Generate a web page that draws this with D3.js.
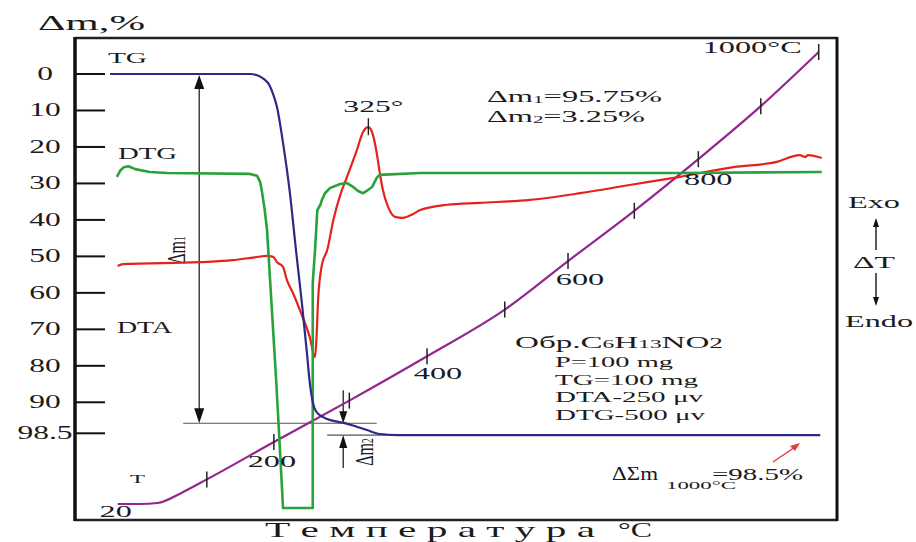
<!DOCTYPE html>
<html>
<head>
<meta charset="utf-8">
<script src="https://cdn.jsdelivr.net/npm/d3@7/dist/d3.min.js"></script>
<style>
  body { margin: 0; background: #fff; }
  svg text { font-family: "Liberation Serif", "Times New Roman", serif; fill: #1b1b1b; }
</style>
</head>
<body>
<div id="chart"></div>
<script>
// horizontal axis = time of the run (min), curves
var massTicks = [0, 10, 20, 30, 40, 50, 60, 70, 80, 90, 98.5];

// TG: [time, mass loss %]
var tgData = [[4.6, 0], [23.0, 0], [24.0, 0.4], [24.8, 1.4], [25.5, 3.0], [26.0, 5.5], [26.5, 9.0],
  [27.3, 18.9], [28.2, 32.6], [29.0, 48.3], [29.8, 63.3], [30.4, 75.7], [30.8, 84.4], [31.2, 89.9],
  [31.6, 92.4], [32.5, 94.0], [33.9, 95.1], [35.4, 95.7], [36.7, 96.5], [38.3, 97.6], [40.0, 98.7],
  [42.3, 99.0], [97.8, 99.0]];

// DTG: [time, deflection]
var dtgData = [[5.5, 71.2], [5.9, 72.4], [6.4, 73.2], [7.0, 73.4], [7.9, 72.8], [9.8, 72.2], [12.1, 72.0],
  [23.0, 71.8], [23.9, 71.4], [24.3, 70.1], [24.5, 68.5], [24.9, 64.3], [25.2, 60.2], [25.6, 49.8],
  [26.0, 39.4], [26.4, 29.0], [26.9, 14.5], [27.3, 2.5], [31.2, 2.5], [31.2, 49.2], [31.5, 56.0],
  [31.8, 64.3], [32.2, 65.4], [32.4, 66.4], [32.8, 67.8], [33.5, 68.9], [34.8, 69.7], [35.7, 69.9],
  [36.5, 69.1], [37.1, 68.3], [37.8, 67.8], [38.3, 68.3], [39.0, 69.1], [39.6, 71.0], [40.0, 71.6],
  [45.3, 72.0], [79.4, 72.0], [98.0, 72.2]];

// DTA: [time, deflection]
var dtaData = [[5.6, 52.7], [6.3, 53.1], [16.4, 53.5], [20.7, 53.9], [23.6, 54.5], [25.2, 54.8],
  [26.0, 54.6], [26.5, 53.5], [27.3, 52.5], [27.8, 49.8], [28.6, 47.1], [29.5, 43.6], [30.8, 38.0],
  [31.5, 33.8], [31.7, 38.0], [31.9, 45.6], [32.4, 52.9], [33.1, 56.0], [33.9, 62.2], [34.8, 67.4],
  [35.7, 71.2], [37.0, 76.8], [37.8, 80.5], [38.5, 81.5], [39.1, 79.9], [39.6, 76.1], [40.0, 72.0],
  [40.4, 68.5], [41.1, 64.9], [42.0, 62.9], [43.0, 62.7], [44.4, 63.5], [45.3, 64.3], [48.8, 65.4],
  [53.1, 65.8], [59.7, 66.4], [66.3, 67.8], [72.8, 69.5], [79.4, 71.2], [86.4, 73.2], [92.1, 74.3],
  [95.1, 75.7], [95.8, 75.3], [96.2, 75.7], [98.0, 75.1]];

// T: [time, °C]
var tempData = [[5.6, 20], [8.5, 20], [10.8, 24], [14.2, 62], [17.3, 100], [26.1, 200], [36.0, 300],
  [46.2, 400], [56.4, 500], [64.7, 600], [73.4, 700], [81.8, 800], [90.0, 900], [97.6, 1000]];
var tempTickTimes = [17.3, 26.1, 36.0, 46.2, 56.4, 64.7, 73.4, 81.8, 90.0, 97.6];
var tempTickValues = [100, 200, 300, 400, 500, 600, 700, 800, 900, 1000];
var tempLabelValues = [20, 200, 400, 600, 800, 1000];
var tempLabelTimes = [5.6, 26.1, 46.2, 64.7, 81.8, 97.6];
var tempLabels = ["20", "200", "400", "600", "800", "1000°C"];

var dm1 = 95.75, dm2 = 3.25, dmSum = 98.5;
var peakTime = 38.5, peakTemp = 325;
var sampleInfo = ["P=100 mg", "TG=100 mg", "DTA-250 μv", "DTG-500 μv"];

const W = 916, H = 542;
const svg = d3.select("#chart").append("svg").attr("width", W).attr("height", H);

const xScale = d3.scaleLinear().domain([0, 100]).range([75, 837]);
const yMass = d3.scaleLinear().domain([0, 98.5]).range([74, 433.3]);
const ySig = d3.scaleLinear().domain([0, 100]).range([520, 38]);
const yTemp = d3.scalePow().exponent(1.2).domain([20, 1000]).range([504, 52]);

function txt(x, y, str, size, width, anchor) {
  var t = svg.append("text").attr("x", x).attr("y", y)
    .attr("font-size", size).style("text-anchor", anchor || "start").text(str);
  if (width) t.attr("textLength", width).attr("lengthAdjust", "spacingAndGlyphs");
  return t;
}
// the scan is stretched sideways, so widen glyphs by k
function stretch(t, k) {
  var w = t.node().getComputedTextLength();
  t.attr("textLength", w * k).attr("lengthAdjust", "spacingAndGlyphs");
}
function tri(x, y, dir, w, h) {
  // tip at (x,y), dir = 1 pointing down, -1 pointing up
  svg.append("path")
    .attr("d", `M${x},${y} L${x - w / 2},${y - dir * h} L${x + w / 2},${y - dir * h} Z`)
    .attr("fill", "#111");
}

// frame
svg.append("line").attr("x1", 75).attr("y1", 38).attr("x2", 837).attr("y2", 38)
  .attr("stroke", "#222").attr("stroke-width", 2.5);
svg.append("line").attr("x1", 75).attr("y1", 520).attr("x2", 837).attr("y2", 520)
  .attr("stroke", "#222").attr("stroke-width", 2.5);
svg.append("line").attr("x1", 837).attr("y1", 37).attr("x2", 837).attr("y2", 521)
  .attr("stroke", "#111").attr("stroke-width", 3);
svg.append("line").attr("x1", 75).attr("y1", 37).attr("x2", 75).attr("y2", 521)
  .attr("stroke", "#111").attr("stroke-width", 3.5);

// mass axis ticks
svg.append("g").selectAll("line").data(massTicks).enter().append("line")
  .attr("x1", 75).attr("x2", 105)
  .attr("y1", d => yMass(d)).attr("y2", d => yMass(d))
  .attr("stroke", "#111").attr("stroke-width", 2);
massTicks.forEach(function (d) {
  var t = txt(45, yMass(d) + 6, String(d), 18, null, "middle");
  stretch(t, 1.75);
});
txt(38, 30, "Δm,%", 20, 107);

// Δm guide lines and arrows
var xDm1 = xScale(16.3), xDm2 = xScale(35.2);
svg.append("line").attr("x1", xScale(14.2)).attr("x2", xScale(39.6))
  .attr("y1", yMass(dm1)).attr("y2", yMass(dm1)).attr("stroke", "#555").attr("stroke-width", 1.2);
svg.append("line").attr("x1", xScale(33.1)).attr("x2", xScale(42.3))
  .attr("y1", yMass(dm1 + dm2)).attr("y2", yMass(dm1 + dm2)).attr("stroke", "#555").attr("stroke-width", 1.2);
svg.append("line").attr("x1", xDm1).attr("x2", xDm1)
  .attr("y1", yMass(0) + 4).attr("y2", yMass(dm1) - 4).attr("stroke", "#222").attr("stroke-width", 1.3);
tri(xDm1, yMass(0) + 1, -1, 10, 14);
tri(xDm1, yMass(dm1), 1, 10, 15);
svg.append("line").attr("x1", xDm2).attr("x2", xDm2)
  .attr("y1", yMass(dm1) - 33).attr("y2", yMass(dm1) - 4).attr("stroke", "#222").attr("stroke-width", 1.3);
tri(xDm2, yMass(dm1), 1, 8, 12);
svg.append("line").attr("x1", xDm2).attr("x2", xDm2)
  .attr("y1", yMass(dm1 + dm2) + 33).attr("y2", yMass(dm1 + dm2) + 4).attr("stroke", "#222").attr("stroke-width", 1.3);
tri(xDm2, yMass(dm1 + dm2), -1, 8, 13);

var r1 = svg.append("text").attr("font-size", 16)
  .attr("transform", "translate(185,250) scale(1.6,1) rotate(-90)")
  .style("text-anchor", "middle");
r1.append("tspan").text("Δm");
r1.append("tspan").attr("font-size", 10).text("1");
var r2 = svg.append("text").attr("font-size", 16)
  .attr("transform", `translate(${xDm2 + 30},452) scale(1.6,1) rotate(-90)`)
  .style("text-anchor", "middle");
r2.append("tspan").text("Δm");
r2.append("tspan").attr("font-size", 10).text("2");

// curves
const lineMass = d3.line().x(d => xScale(d[0])).y(d => yMass(d[1])).curve(d3.curveMonotoneX);
const lineSig = d3.line().x(d => xScale(d[0])).y(d => ySig(d[1]));
const lineTemp = d3.line().x(d => xScale(d[0])).y(d => yTemp(d[1])).curve(d3.curveMonotoneX);

svg.append("path").attr("d", lineTemp(tempData))
  .attr("fill", "none").attr("stroke", "#93268f").attr("stroke-width", 2.2);
svg.append("path").attr("d", lineSig.curve(d3.curveMonotoneX)(dtaData))
  .attr("fill", "none").attr("stroke", "#e2241c").attr("stroke-width", 2.2);
svg.append("path").attr("d", lineSig.curve(d3.curveLinear)(dtgData))
  .attr("fill", "none").attr("stroke", "#27a33a").attr("stroke-width", 2.6).attr("stroke-linejoin", "round");
svg.append("path").attr("d", lineMass(tgData))
  .attr("fill", "none").attr("stroke", "#2c2a86").attr("stroke-width", 2.2);

// temperature ticks and labels
tempTickTimes.forEach(function (tm, i) {
  var x = xScale(tm), y = yTemp(tempTickValues[i]);
  svg.append("line").attr("x1", x).attr("x2", x).attr("y1", y - 8).attr("y2", y + 8)
    .attr("stroke", "#222").attr("stroke-width", 1.5);
});
var shift = [[-2, 13], [-2, 25], [11, 23], [12, 24], [10, 26], [-17, 1]];
tempLabels.forEach(function (s, i) {
  var x = xScale(tempLabelTimes[i]) + shift[i][0], y = yTemp(tempLabelValues[i]) + shift[i][1];
  var t = txt(x, y, s, 17, null, i == tempLabels.length - 1 ? "end" : "middle");
  stretch(t, 1.9);
});

// peak mark
var px = xScale(peakTime), py = ySig(81.5);
svg.append("line").attr("x1", px).attr("x2", px).attr("y1", py - 9).attr("y2", py + 8)
  .attr("stroke", "#222").attr("stroke-width", 1.4);
txt(px + 5, 112, peakTemp + "°", 17, 60, "middle");

// curve names
txt(108, 63, "TG", 15, 39);
txt(118, 159, "DTG", 16, 59);
txt(117, 333, "DTA", 16, 55);
txt(130, 483, "T", 12, 15);

// results
var a1 = txt(487, 102, "", 17, 175);
a1.append("tspan").text("Δm");
a1.append("tspan").attr("font-size", 11).attr("dy", 1).text("1");
a1.append("tspan").attr("dy", -1).text("=" + dm1 + "%");
var a2 = txt(487, 122, "", 17, 158);
a2.append("tspan").text("Δm");
a2.append("tspan").attr("font-size", 11).attr("dy", 1).text("2");
a2.append("tspan").attr("dy", -1).text("=" + dm2 + "%");

// sample block
var s0 = txt(515, 348, "", 17, 208);
s0.append("tspan").text("Обр.C");
s0.append("tspan").attr("font-size", 12).text("6");
s0.append("tspan").text("H");
s0.append("tspan").attr("font-size", 12).text("13");
s0.append("tspan").text("NO");
s0.append("tspan").attr("font-size", 14).text("2");
var infoW = [118, 143, 148, 150];
sampleInfo.forEach(function (s, i) {
  txt(555, 367 + i * 17.7, s, 15, infoW[i]);
});

// total loss
txt(612, 480, "ΔΣm", 18, 46);
txt(666, 489, "1000°C", 11, 70);
txt(712, 480, "=" + dmSum + "%", 17, 91);
svg.append("line").attr("x1", 773).attr("y1", 462).attr("x2", 795).attr("y2", 447)
  .attr("stroke", "#e33a3a").attr("stroke-width", 1.5);
svg.append("path").attr("d", "M800,443 L790,446 L795,451 Z").attr("fill", "#e33a3a");

// Exo / Endo
txt(848, 208, "Exo", 17, 52);
txt(853, 268, "ΔT", 17, 42);
txt(845, 327, "Endo", 17, 68);
svg.append("line").attr("x1", 876).attr("x2", 876).attr("y1", 250).attr("y2", 224)
  .attr("stroke", "#222").attr("stroke-width", 1.5);
tri(876, 218, -1, 6, 9);
svg.append("line").attr("x1", 876).attr("x2", 876).attr("y1", 273).attr("y2", 300)
  .attr("stroke", "#222").attr("stroke-width", 1.5);
tri(876, 306, 1, 6, 9);

// axis title
txt(265, 537, "Т е м п е р а т у р а", 21, 330);
txt(618, 537, "°C", 21, 34);
</script>
</body>
</html>
